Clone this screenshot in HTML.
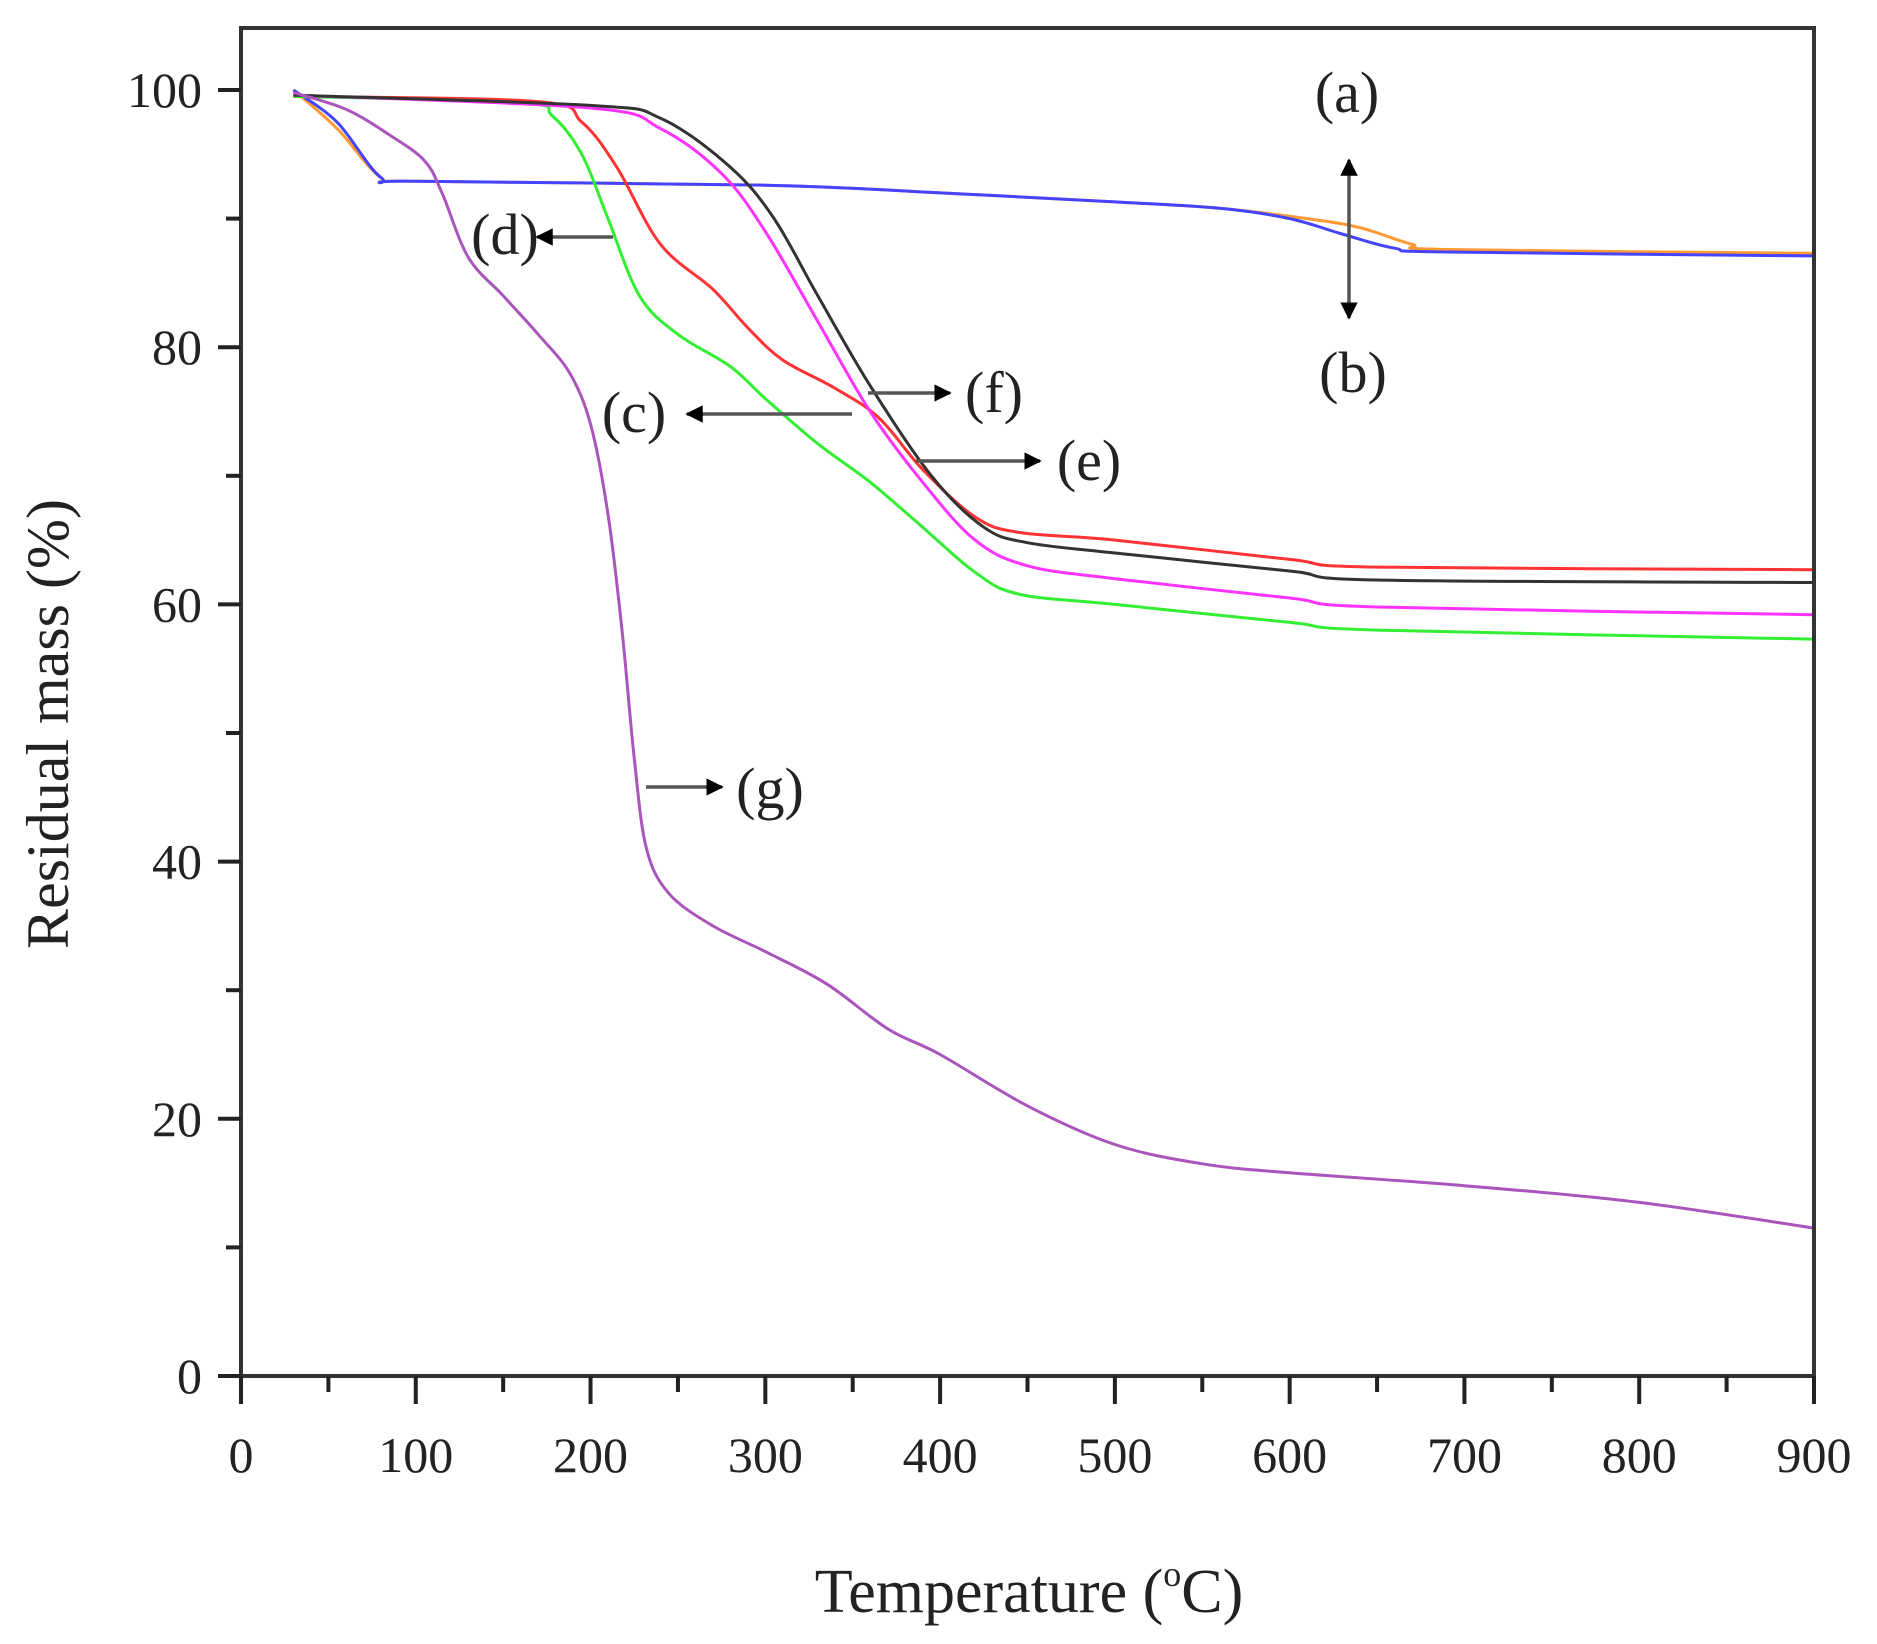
<!DOCTYPE html>
<html><head><meta charset="utf-8"><style>
html,body{margin:0;padding:0;background:#fff;}
svg{display:block;font-family:"Liberation Serif",serif;}
</style></head><body>
<svg id="s" width="1877" height="1644" viewBox="0 0 1877 1644" xmlns="http://www.w3.org/2000/svg">
<defs>
<marker id="ar" viewBox="0 0 10 10" refX="9" refY="5" markerWidth="5" markerHeight="5" orient="auto-start-reverse" markerUnits="strokeWidth">
<path d="M0,0 L10,5 L0,10 z" fill="#000"/></marker>
</defs>
<g id="curves" fill="none" stroke-width="3" stroke-linejoin="round"></g>
<rect x="241" y="28" width="1573" height="1348" fill="none" stroke="#333" stroke-width="4"/>
<g id="ticks" stroke="#222" stroke-width="4"></g>
<g id="labels" font-size="50" fill="#222"></g>
<text x="1029" y="1612" font-size="62" text-anchor="middle" fill="#222">Temperature (<tspan font-size="36" dy="-26">o</tspan><tspan dy="26">C)</tspan></text>
<text transform="translate(68,724) rotate(-90)" font-size="60" text-anchor="middle" fill="#222">Residual mass (%)</text>
<g font-size="58" fill="#222" text-anchor="middle">
<text x="1347" y="112">(a)</text>
<text x="1353" y="392">(b)</text>
<text x="505" y="254">(d)</text>
<text x="994" y="412">(f)</text>
<text x="634" y="432">(c)</text>
<text x="1089" y="480">(e)</text>
<text x="770" y="808">(g)</text>
</g>
<g stroke="#555" stroke-width="3.5" fill="none">
<line x1="1349" y1="160" x2="1349" y2="318" marker-start="url(#ar)" marker-end="url(#ar)"/>
<line x1="613" y1="237" x2="537" y2="237" marker-end="url(#ar)"/>
<line x1="868" y1="393" x2="950" y2="393" marker-end="url(#ar)"/>
<line x1="852" y1="414" x2="687" y2="414" marker-end="url(#ar)"/>
<line x1="916" y1="461" x2="1040" y2="461" marker-end="url(#ar)"/>
<line x1="646" y1="787" x2="722" y2="787" marker-end="url(#ar)"/>
</g>
</svg>
<script>
var NS="http://www.w3.org/2000/svg";
function X(t){return 241+t*1573/900;}
function Y(v){return 1376-v*12.86;}
function path(pts){
 var p=pts.map(function(a){return [X(a[0]),Y(a[1])];});
 var d="M"+p[0][0].toFixed(1)+","+p[0][1].toFixed(1);
 for(var i=0;i<p.length-1;i++){
  var p0=p[i-1]||p[i],p1=p[i],p2=p[i+1],p3=p[i+2]||p2;
  var c1=[p1[0]+(p2[0]-p0[0])/6,p1[1]+(p2[1]-p0[1])/6];
  var c2=[p2[0]-(p3[0]-p1[0])/6,p2[1]-(p3[1]-p1[1])/6];
  d+=" C"+c1[0].toFixed(1)+","+c1[1].toFixed(1)+" "+c2[0].toFixed(1)+","+c2[1].toFixed(1)+" "+p2[0].toFixed(1)+","+p2[1].toFixed(1);
 }
 return d;
}
var series=[
["#ff9933",[[30,100],[55,97],[80,93.2],[100,92.9],[300,92.6],[400,92],[500,91.3],[560,90.8],[610,90],[640,89.3],[670,88],[690,87.6],[900,87.3]]],
["#4444ff",[[30,100],[55,97.5],[80,93.2],[100,92.9],[300,92.6],[400,92],[500,91.3],[560,90.8],[600,90],[630,88.8],[660,87.7],[690,87.4],[900,87.1]]],
["#ff3333",[[30,99.5],[170,99.1],[195,97.5],[215,94],[240,88],[270,84.5],[290,81.5],[310,79],[340,76.8],[365,74.5],[390,70.5],[420,66.8],[445,65.6],[500,65],[600,63.5],[650,62.9],[900,62.7]]],
["#33ee33",[[30,99.5],[160,99],[178,98],[195,95],[210,90],[228,84],[250,81],[280,78.5],[300,76],[330,72.5],[360,69.5],[390,66],[420,62.5],[445,60.8],[500,60],[600,58.6],[650,58],[900,57.3]]],
["#ff33ff",[[30,99.6],[200,98.6],[240,97],[275,93.5],[300,89],[330,82],[360,75],[390,69.5],[420,65],[450,63],[500,62],[600,60.5],[650,59.8],[900,59.2]]],
["#333333",[[30,99.6],[200,98.8],[240,97.8],[280,94],[305,90],[330,84],[360,77],[395,70],[425,66],[450,64.8],[500,64],[600,62.6],[650,61.9],[900,61.7]]],
["#aa55bb",[[30,99.8],[60,98.5],[85,96.5],[105,94.5],[115,92],[130,87],[150,84],[170,81],[188,78],[200,74],[210,67],[218,58],[225,48],[232,41],[245,37.5],[270,35],[300,33],[335,30.5],[370,27],[400,25],[450,21],[500,18],[550,16.5],[600,15.8],[700,14.8],[800,13.5],[900,11.5]]]
];
var g=document.getElementById("curves");
series.forEach(function(s){var e=document.createElementNS(NS,"path");e.setAttribute("d",path(s[1]));e.setAttribute("stroke",s[0]);g.appendChild(e);});
var tk=document.getElementById("ticks"),lb=document.getElementById("labels");
function line(x1,y1,x2,y2){var e=document.createElementNS(NS,"line");e.setAttribute("x1",x1);e.setAttribute("y1",y1);e.setAttribute("x2",x2);e.setAttribute("y2",y2);tk.appendChild(e);}
function txt(x,y,s,a){var e=document.createElementNS(NS,"text");e.setAttribute("x",x);e.setAttribute("y",y);e.setAttribute("text-anchor",a);e.textContent=s;lb.appendChild(e);}
for(var t=0;t<=900;t+=50){var x=X(t);line(x,1376,x,t%100==0?1404:1392);if(t%100==0)txt(x,1472,""+t,"middle");}
for(var v=0;v<=100;v+=10){var y=Y(v);line(241,y,v%20==0?218:226,y);if(v%20==0)txt(202,y+17,""+v,"end");}
</script>
</body></html>
